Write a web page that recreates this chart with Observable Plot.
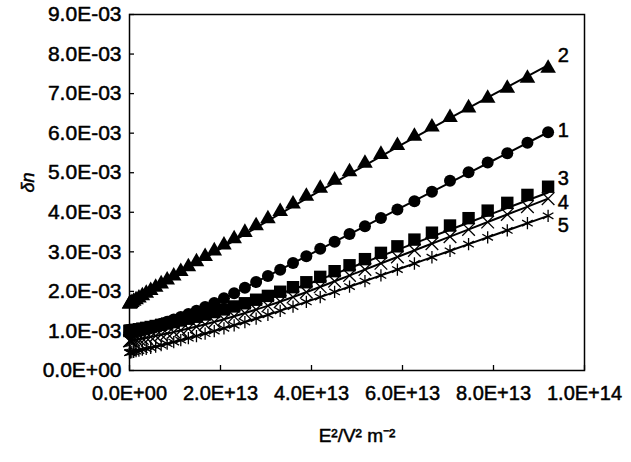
<!DOCTYPE html>
<html><head><meta charset="utf-8">
<script src="https://cdn.jsdelivr.net/npm/d3@7"></script>
<script src="https://cdn.jsdelivr.net/npm/@observablehq/plot@0.6"></script>
<style>body{margin:0;background:#fff}</style>
</head><body><div id="chart"></div>
<script>
// E^2 in units of 1E+13 V^2 m^-2
const xValues = [0, 0.00575, 0.023, 0.0518, 0.092, 0.144, 0.207, 0.282, 0.368, 0.466, 0.575, 0.696, 0.828, 0.972, 1.127, 1.294, 1.472, 1.662, 1.863, 2.076, 2.30, 2.536, 2.783, 3.042, 3.312, 3.594, 3.887, 4.192, 4.508, 4.836, 5.175, 5.526, 5.888, 6.262, 6.647, 7.044, 7.452, 7.872, 8.303, 8.746, 9.20];
// δn in units of 1E-03
const series1 = [0.950, 0.952, 0.957, 0.965, 0.977, 0.992, 1.012, 1.036, 1.064, 1.097, 1.136, 1.180, 1.231, 1.289, 1.354, 1.428, 1.511, 1.604, 1.708, 1.824, 1.951, 2.092, 2.237, 2.390, 2.549, 2.716, 2.889, 3.080, 3.255, 3.449, 3.649, 3.856, 4.069, 4.280, 4.517, 4.800, 5.010, 5.260, 5.494, 5.755, 6.023];
const series2 = [1.680, 1.684, 1.697, 1.718, 1.748, 1.786, 1.833, 1.888, 1.951, 2.023, 2.102, 2.190, 2.286, 2.390, 2.501, 2.621, 2.748, 2.882, 3.024, 3.173, 3.329, 3.492, 3.662, 3.839, 4.021, 4.211, 4.405, 4.606, 4.813, 5.025, 5.242, 5.464, 5.690, 5.922, 6.157, 6.397, 6.639, 6.885, 7.135, 7.387, 7.642];
const series3 = [1.000, 1.001, 1.005, 1.010, 1.019, 1.029, 1.043, 1.059, 1.078, 1.100, 1.125, 1.154, 1.186, 1.223, 1.264, 1.309, 1.359, 1.415, 1.477, 1.544, 1.619, 1.700, 1.789, 1.886, 1.991, 2.106, 2.231, 2.367, 2.511, 2.660, 2.815, 2.974, 3.139, 3.309, 3.484, 3.665, 3.851, 4.042, 4.238, 4.439, 4.646];
const series4 = [0.750, 0.751, 0.755, 0.760, 0.769, 0.779, 0.793, 0.809, 0.828, 0.850, 0.875, 0.904, 0.936, 0.973, 1.014, 1.059, 1.109, 1.165, 1.227, 1.294, 1.369, 1.450, 1.539, 1.636, 1.741, 1.856, 1.981, 2.115, 2.256, 2.402, 2.553, 2.709, 2.870, 3.037, 3.208, 3.385, 3.566, 3.753, 3.945, 4.142, 4.344];
const series5 = [0.450, 0.451, 0.456, 0.463, 0.474, 0.488, 0.505, 0.525, 0.548, 0.575, 0.605, 0.640, 0.678, 0.720, 0.766, 0.817, 0.872, 0.932, 0.997, 1.067, 1.143, 1.225, 1.313, 1.408, 1.509, 1.617, 1.733, 1.857, 1.986, 2.121, 2.260, 2.404, 2.552, 2.705, 2.863, 3.026, 3.193, 3.366, 3.542, 3.724, 3.910];
// fitted curves
const fitX = [0, 1, 2, 3, 4, 5, 6, 7, 8, 9.2];
const fit1 = [0.95, 1.30, 1.78, 2.365, 2.955, 3.545, 4.135, 4.725, 5.315, 6.023];
const fit2 = [1.70, 2.395, 3.08, 3.755, 4.42, 5.075, 5.72, 6.355, 6.98, 7.717];
const fit3 = [0.95, 1.15, 1.45, 1.82, 2.22, 2.66, 3.10, 3.54, 3.98, 4.50];
const fit4 = [0.75, 0.98, 1.27, 1.62, 2.03, 2.475, 2.92, 3.365, 3.81, 4.344];
const fit5 = [0.45, 0.728, 1.042, 1.392, 1.778, 2.188, 2.598, 3.008, 3.418, 3.910];
const seriesNames = ["1", "2", "3", "4", "5"];
const labelX = [9.41, 9.41, 9.41, 9.41, 9.41];
const labelY = [6.07, 7.96, 4.85, 4.25, 3.67];
const xTicks = [0, 2, 4, 6, 8, 10];
const xTickLabels = ["0.0E+00", "2.0E+13", "4.0E+13", "6.0E+13", "8.0E+13", "1.0E+14"];
const yTicks = [0, 1, 2, 3, 4, 5, 6, 7, 8, 9];
const yTickLabels = ["0.0E+00", "1.0E-03", "2.0E-03", "3.0E-03", "4.0E-03", "5.0E-03", "6.0E-03", "7.0E-03", "8.0E-03", "9.0E-03"];
const xTitle = "E²/V² m⁻²";
const yTitle = "δn";

const allSeries = [series1, series2, series3, series4, series5];
const allFits = [fit1, fit2, fit3, fit4, fit5];
const pts = seriesNames.map((s, k) => xValues.map((x, i) => ({s, x, y: allSeries[k][i]})));
const fits = seriesNames.flatMap((s, k) => fitX.map((x, i) => ({s, x, y: allFits[k][i]})));
const labels = seriesNames.map((s, k) => ({s, x: labelX[k], y: labelY[k]}));

const font = "'Liberation Sans', Arial, sans-serif";
const heavy = {fill: "#000", stroke: "#000", strokeWidth: 0.5};
const chart = Plot.plot({
  width: 631, height: 462,
  marginLeft: 129, marginRight: 47, marginTop: 14, marginBottom: 92,
  style: {fontFamily: font, background: "#fff", color: "#000"},
  x: {domain: [0, 10]},
  y: {domain: [0, 9]},
  marks: [
    Plot.axisX({ticks: xTicks, tickSize: -5, tickFormat: () => "", label: null, strokeWidth: 1.3}),
    Plot.axisY({ticks: yTicks, tickSize: -5, tickFormat: () => "", label: null, strokeWidth: 1.3}),
    Plot.text(xTicks, {x: d => d, frameAnchor: "bottom", dy: 29, text: (d, i) => xTickLabels[i], fontSize: 20, ...heavy}),
    Plot.text(yTicks, {y: d => d, frameAnchor: "left", dx: -8, textAnchor: "end", text: (d, i) => yTickLabels[i], fontSize: 21, letterSpacing: "1px", ...heavy}),
    Plot.frame({stroke: "#000", strokeWidth: 1.5}),
    Plot.line(fits, {x: "x", y: "y", z: "s", stroke: "#000", strokeWidth: 2, curve: "monotone-x"}),
    Plot.dot(pts[0], {x: "x", y: "y", symbol: "circle", r: 6, fill: "#000", stroke: "none"}),
    Plot.dot(pts[1], {x: "x", y: "y", symbol: "triangle", r: 5.8, fill: "#000", stroke: "none"}),
    Plot.dot(pts[2], {x: "x", y: "y", symbol: "square", r: 7, fill: "#000", stroke: "none"}),
    Plot.dot(pts[3], {x: "x", y: "y", symbol: "times", r: 5.8, fill: "none", stroke: "#000", strokeWidth: 1.3}),
    Plot.dot(pts[4], {x: "x", y: "y", symbol: "asterisk", r: 5.8, fill: "none", stroke: "#000", strokeWidth: 1.3}),
    Plot.text(labels, {x: "x", y: "y", text: "s", textAnchor: "start", fontSize: 20, ...heavy}),
    Plot.text([xTitle], {frameAnchor: "bottom", dy: 71, fontSize: 19, ...heavy}),
    Plot.text([yTitle], {frameAnchor: "left", dx: -101, rotate: -90, fontSize: 18, fontStyle: "italic", ...heavy})
  ]
});
document.getElementById("chart").appendChild(chart);
</script>
</body></html>
